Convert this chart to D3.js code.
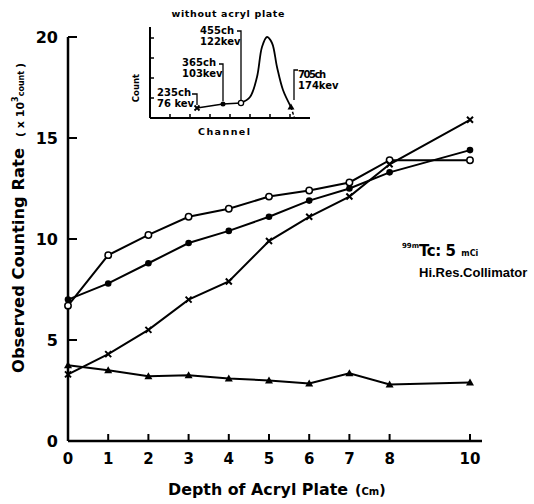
<!DOCTYPE html>
<html><head><meta charset="utf-8">
<script src="https://cdn.jsdelivr.net/npm/d3@7"></script>
<style>body{margin:0;background:#fff}svg{display:block}text{font-family:"DejaVu Sans","Liberation Sans",Arial,sans-serif;font-weight:bold;fill:#000}</style>
</head><body>
<svg id="c" width="534" height="504"></svg>
<script>
// ---- data ----
const depth = [0,1,2,3,4,5,6,7,8,10];
const openCircle   = [6.7,9.2,10.2,11.1,11.5,12.1,12.4,12.8,13.9,13.9];
const filledCircle = [7.0,7.8,8.8,9.8,10.4,11.1,11.9,12.5,13.3,14.4];
const crossMark    = [3.3,4.3,5.5,7.0,7.9,9.9,11.1,12.1,13.7,15.9];
const triangle     = [3.75,3.5,3.2,3.25,3.1,3.0,2.85,3.35,2.8,2.9];
const xTicks = [0,1,2,3,4,5,6,7,8,10];
const yTicks = [0,5,10,15,20];
// inset spectrum (channel, relative count)
const markChannels = [235,365,455,705];
const markCounts   = [10,14,15,11];
const markLabels = [["235ch","76 kev"],["365ch","103kev"],["455ch","122kev"],["705ch","174kev"]];
const peakChannels = [455,500,535,560,585,610,635,665,705];
const peakCounts   = [15,21,41,71,81,75,51,28,11];
const tailChannels = [705,722];
const tailCounts   = [11,0];
const insetXTicks = [100,200,300,400,500,600,700];
const insetYTicks = [20,40,60,80];

const svg = d3.select("#c");
const x = d3.scaleLinear().domain([0,10]).range([68,470]);
const y = d3.scaleLinear().domain([0,20]).range([441,37]);

// axes
svg.append("line").attr("x1",68).attr("x2",482).attr("y1",y(0)).attr("y2",y(0)).attr("stroke","#000").attr("stroke-width",2.5);
svg.append("line").attr("x1",68).attr("x2",68).attr("y1",y(0)).attr("y2",y(20)).attr("stroke","#000").attr("stroke-width",2.5);
svg.selectAll(".xt").data(xTicks).enter().append("line")
  .attr("x1",d=>x(d)).attr("x2",d=>x(d)).attr("y1",y(0)).attr("y2",y(0)-7).attr("stroke","#000").attr("stroke-width",2);
svg.selectAll(".yt").data(yTicks).enter().append("line")
  .attr("x1",68).attr("x2",77).attr("y1",d=>y(d)).attr("y2",d=>y(d)).attr("stroke","#000").attr("stroke-width",2);
svg.selectAll(".xl").data(xTicks).enter().append("text")
  .attr("x",d=>x(d)).attr("y",464).attr("text-anchor","middle").attr("font-size",15).text(d=>d);
svg.selectAll(".yl").data(yTicks).enter().append("text")
  .attr("x",58).attr("y",d=>y(d)+6).attr("text-anchor","end").attr("font-size",16).text(d=>d);

// axis titles
svg.append("text").attr("x",168).attr("y",495).attr("font-size",15).attr("textLength",180).attr("lengthAdjust","spacingAndGlyphs").text("Depth of Acryl Plate");
const xt2 = svg.append("text").attr("x",355).attr("y",495).attr("font-size",14);
xt2.append("tspan").text("(");
xt2.append("tspan").attr("font-size",10).text("Cm");
xt2.append("tspan").text(")");

svg.append("text").attr("transform","translate(24,373) rotate(-90)").attr("font-size",15)
  .attr("textLength",225).attr("lengthAdjust","spacingAndGlyphs").text("Observed Counting Rate");
const yt = svg.append("text").attr("transform","translate(24,137) rotate(-90)").attr("font-size",11);
yt.append("tspan").text("( x 10");
yt.append("tspan").attr("font-size",8).attr("dy",-6).text("3");
yt.append("tspan").attr("font-size",8).attr("dy",6).text("count");
yt.append("tspan").attr("font-size",11).attr("dx",3).text(")");

// series lines
const line = d3.line().x((d,i)=>x(depth[i])).y(d=>y(d));
[openCircle,filledCircle,crossMark,triangle].forEach(s=>{
  svg.append("path").attr("d",line(s)).attr("fill","none").attr("stroke","#000").attr("stroke-width",2);
});
// markers
svg.selectAll(".oc").data(openCircle).enter().append("circle")
  .attr("cx",(d,i)=>x(depth[i])).attr("cy",d=>y(d)).attr("r",3.2).attr("fill","#fff").attr("stroke","#000").attr("stroke-width",1.5);
svg.selectAll(".fc").data(filledCircle).enter().append("circle")
  .attr("cx",(d,i)=>x(depth[i])).attr("cy",d=>y(d)).attr("r",3.3).attr("fill","#000");
svg.selectAll(".cm").data(crossMark).enter().append("path")
  .attr("transform",(d,i)=>`translate(${x(depth[i])},${y(d)})`)
  .attr("d","M-3,-3L3,3M3,-3L-3,3").attr("stroke","#000").attr("stroke-width",2);
svg.selectAll(".tr").data(triangle).enter().append("path")
  .attr("transform",(d,i)=>`translate(${x(depth[i])},${y(d)})`)
  .attr("d","M0,-4L4,3L-4,3Z").attr("fill","#000");

// annotation
const a1 = svg.append("text").attr("x",402).attr("y",256);
a1.append("tspan").attr("font-size",7).attr("dy",-8).text("99m");
a1.append("tspan").attr("font-size",15).attr("dy",8).attr("letter-spacing",-0.5).text("Tc: 5");
a1.append("tspan").attr("font-size",8).attr("dx",6).text("mCi");
svg.append("text").attr("x",419).attr("y",277).attr("font-size",13).style("font-family","'Liberation Sans',Arial,sans-serif").text("Hi.Res.Collimator");

// ---- inset ----
const ix = d3.scaleLinear().domain([0,800]).range([150,310]);
const iy = d3.scaleLinear().domain([0,91]).range([118,27]);
svg.append("text").attr("x",228).attr("y",17).attr("text-anchor","middle").attr("font-size",9.5).attr("textLength",113).attr("lengthAdjust","spacing").text("without acryl plate");
svg.append("line").attr("x1",ix(0)).attr("x2",ix(800)).attr("y1",iy(0)).attr("y2",iy(0)).attr("stroke","#000").attr("stroke-width",2);
svg.append("line").attr("x1",ix(0)).attr("x2",ix(0)).attr("y1",iy(0)).attr("y2",iy(91)).attr("stroke","#000").attr("stroke-width",2);
svg.selectAll(".ixt").data(insetXTicks).enter().append("line")
  .attr("x1",d=>ix(d)).attr("x2",d=>ix(d)).attr("y1",iy(0)).attr("y2",iy(0)-4).attr("stroke","#000").attr("stroke-width",1.5);
svg.selectAll(".iyt").data(insetYTicks).enter().append("line")
  .attr("x1",ix(0)).attr("x2",ix(0)+4).attr("y1",d=>iy(d)).attr("y2",d=>iy(d)).attr("stroke","#000").attr("stroke-width",1.5);
svg.append("text").attr("x",224).attr("y",135).attr("text-anchor","middle").attr("font-size",9.5).attr("textLength",52).attr("lengthAdjust","spacing").text("Channel");
svg.append("text").attr("transform","translate(139,88) rotate(-90)").attr("text-anchor","middle").attr("font-size",8.5).text("Count");

const iline = d3.line().x(d=>ix(d[0])).y(d=>iy(d[1]));
svg.append("path").attr("d",iline(markChannels.slice(0,3).map((c,i)=>[c,markCounts[i]]))).attr("fill","none").attr("stroke","#000").attr("stroke-width",1.5);
svg.append("path").attr("d",d3.line().x(d=>ix(d[0])).y(d=>iy(d[1])).curve(d3.curveCatmullRom)(peakChannels.map((c,i)=>[c,peakCounts[i]]))).attr("fill","none").attr("stroke","#000").attr("stroke-width",1.8);
svg.append("path").attr("d",iline(tailChannels.map((c,i)=>[c,tailCounts[i]]))).attr("fill","none").attr("stroke","#000").attr("stroke-width",1.5).attr("stroke-dasharray","3,2");
// inset markers
const mk = markChannels.map((c,i)=>[c,markCounts[i]]);
svg.append("path").attr("transform",`translate(${ix(mk[0][0])},${iy(mk[0][1])})`).attr("d","M-2.5,-2.5L2.5,2.5M2.5,-2.5L-2.5,2.5").attr("stroke","#000").attr("stroke-width",1.8);
svg.append("circle").attr("cx",ix(mk[1][0])).attr("cy",iy(mk[1][1])).attr("r",2.5).attr("fill","#000");
svg.append("circle").attr("cx",ix(mk[2][0])).attr("cy",iy(mk[2][1])).attr("r",2.6).attr("fill","#fff").attr("stroke","#000").attr("stroke-width",1.3);
svg.append("path").attr("transform",`translate(${ix(mk[3][0])},${iy(mk[3][1])})`).attr("d","M0,-3.5L3.5,2.5L-3.5,2.5Z").attr("fill","#000");

// inset labels + brackets
const labelPos = [[157,96],[182,66],[200,34],[298,78]];
markLabels.forEach((l,i)=>{
  const [lx,ly] = labelPos[i];
  const t = svg.append("text").attr("x",lx).attr("y",ly).attr("font-size",10);
  t.append("tspan").attr("x",lx).attr("textLength",i===3?28:34).text(l[0]);
  t.append("tspan").attr("x",lx).attr("dy",11).text(l[1]);
});
const bx = markChannels.map(c=>ix(c));
const brackets = [
  `M${bx[0]-5},${94}L${bx[0]},${94}L${bx[0]},${iy(markCounts[0])-3}`,
  `M${bx[1]-4},${64}L${bx[1]},${64}L${bx[1]},${iy(markCounts[1])-3}`,
  `M${bx[2]-4},${31}L${bx[2]},${31}L${bx[2]},${iy(markCounts[2])-3}`,
  `M${bx[3]+7},${70}L${bx[3]+3},${70}L${bx[3]+3},${iy(markCounts[3])-7}`
];
brackets.forEach(p=>svg.append("path").attr("d",p).attr("fill","none").attr("stroke","#000").attr("stroke-width",1.3));
</script>
</body></html>
